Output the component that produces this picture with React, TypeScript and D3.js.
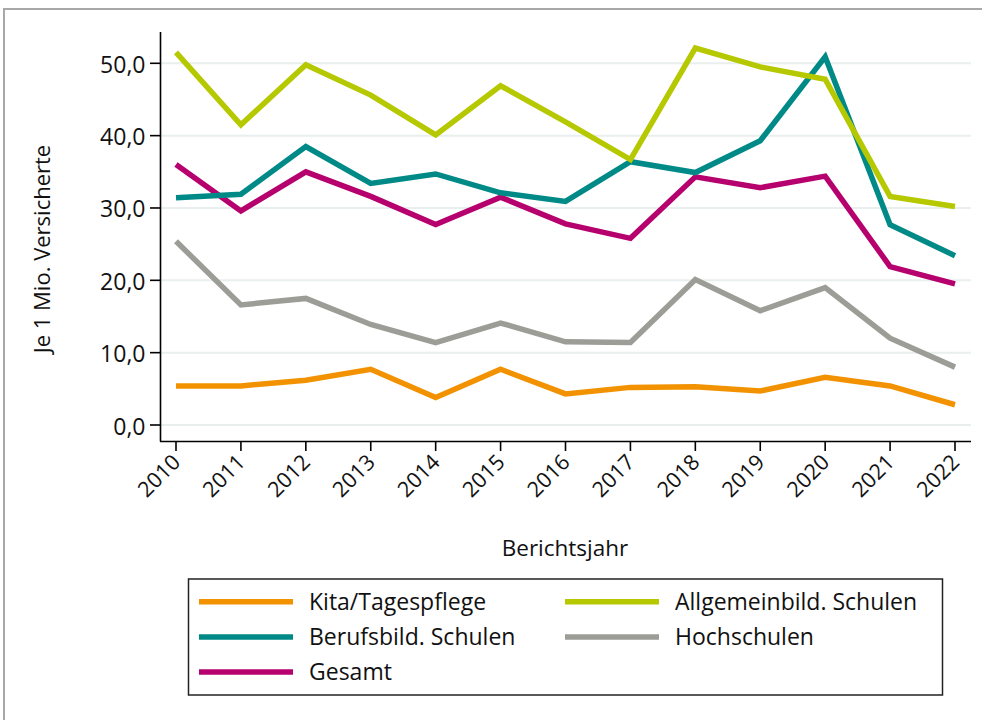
import React from "react";
import * as d3 from "d3";

const years = [2010, 2011, 2012, 2013, 2014, 2015, 2016, 2017, 2018, 2019, 2020, 2021, 2022];
const kita = [5.4, 5.4, 6.2, 7.7, 3.8, 7.7, 4.3, 5.2, 5.3, 4.7, 6.6, 5.4, 2.8];
const allgemein = [51.5, 41.5, 49.8, 45.6, 40.1, 46.9, 41.9, 36.7, 52.1, 49.5, 47.8, 31.6, 30.2];
const berufs = [31.4, 31.9, 38.5, 33.4, 34.7, 32.1, 30.9, 36.4, 34.9, 39.3, 50.9, 27.7, 23.4];
const hoch = [25.4, 16.6, 17.5, 13.9, 11.4, 14.1, 11.5, 11.4, 20.1, 15.8, 19.0, 12.0, 8.0];
const gesamt = [36.0, 29.6, 35.0, 31.6, 27.7, 31.5, 27.8, 25.8, 34.3, 32.8, 34.4, 21.9, 19.5];
const yTicks = [0, 10, 20, 30, 40, 50];

const seriesNames = ["Kita/Tagespflege", "Allgemeinbild. Schulen", "Berufsbild. Schulen", "Hochschulen", "Gesamt"];
const seriesColors = ["#F39200", "#B5C800", "#008A87", "#9D9D98", "#B5006E"];
const seriesValues = [kita, allgemein, berufs, hoch, gesamt];
// drawing order (back to front)
const drawOrder = [0, 3, 4, 2, 1];

const FONT = "'Open Sans', sans-serif";

export default function App() {
  const x = d3.scaleLinear().domain([2010, 2022]).range([176, 955]);
  const y = d3.scaleLinear().domain([0, 50]).range([425, 63.3]);
  const line = d3
    .line<number>()
    .x((_, i) => x(years[i]))
    .y((d) => y(d));

  const fmt = (v: number) => v.toFixed(1).replace(".", ",");

  const legendRows = [
    { idx: 0, col: 0, row: 0 },
    { idx: 1, col: 1, row: 0 },
    { idx: 2, col: 0, row: 1 },
    { idx: 3, col: 1, row: 1 },
    { idx: 4, col: 0, row: 2 },
  ];
  const colX = [199, 565];
  const rowY = [601.7, 637, 672];

  return (
    <svg
      width={982}
      height={720}
      style={{ position: "absolute", left: 0, top: 0, background: "#fff" }}
      fontFamily={FONT}
    >
      <rect x={0} y={0} width={982} height={720} fill="#fff" />
      {/* outer frame */}
      <rect x={4} y={9} width={1100} height={800} fill="none" stroke="#a8a8a8" strokeWidth={2} />

      {/* gridlines */}
      {yTicks.map((t) => (
        <line key={"g" + t} x1={161} x2={971} y1={y(t)} y2={y(t)} stroke="#e8efee" strokeWidth={2} />
      ))}

      {/* axes */}
      <line x1={160.5} x2={160.5} y1={32} y2={441.5} stroke="#000" strokeWidth={1.6} />
      <line x1={160} x2={971} y1={441.5} y2={441.5} stroke="#000" strokeWidth={1.6} />

      {/* y ticks */}
      {yTicks.map((t) => (
        <g key={"yt" + t}>
          <line x1={150} x2={160} y1={y(t)} y2={y(t)} stroke="#000" strokeWidth={1.6} />
          <text x={145.5} y={y(t) + 9.5} textAnchor="end" fontSize={23} fill="#111">
            {fmt(t)}
          </text>
        </g>
      ))}

      {/* x ticks */}
      {years.map((yr) => (
        <g key={"xt" + yr}>
          <line x1={x(yr)} x2={x(yr)} y1={441} y2={451} stroke="#000" strokeWidth={1.6} />
          <text
            transform={`translate(${x(yr) + 5.6},${463.6}) rotate(-45)`}
            textAnchor="end"
            fontSize={21.5}
            fill="#111"
          >
            {yr}
          </text>
        </g>
      ))}

      {/* axis titles */}
      <text transform="translate(50,249) rotate(-90)" textAnchor="middle" fontSize={22} fill="#111">
        Je 1 Mio. Versicherte
      </text>
      <text x={565} y={556} textAnchor="middle" fontSize={22.5} fill="#111">
        Berichtsjahr
      </text>

      {/* series */}
      {drawOrder.map((i) => (
        <path
          key={"s" + i}
          d={line(seriesValues[i]) || ""}
          fill="none"
          stroke={seriesColors[i]}
          strokeWidth={5.5}
          strokeLinejoin="miter"
          strokeLinecap="butt"
        />
      ))}

      {/* legend */}
      <rect x={188.5} y={579} width={754} height={116} fill="#fff" stroke="#222" strokeWidth={1.5} />
      {legendRows.map((r) => (
        <g key={"l" + r.idx}>
          <line
            x1={colX[r.col]}
            x2={colX[r.col] + 94}
            y1={rowY[r.row]}
            y2={rowY[r.row]}
            stroke={seriesColors[r.idx]}
            strokeWidth={5.5}
          />
          <text x={colX[r.col] + 110} y={rowY[r.row] + 8.2} fontSize={23} fill="#111">
            {seriesNames[r.idx]}
          </text>
        </g>
      ))}
    </svg>
  );
}
